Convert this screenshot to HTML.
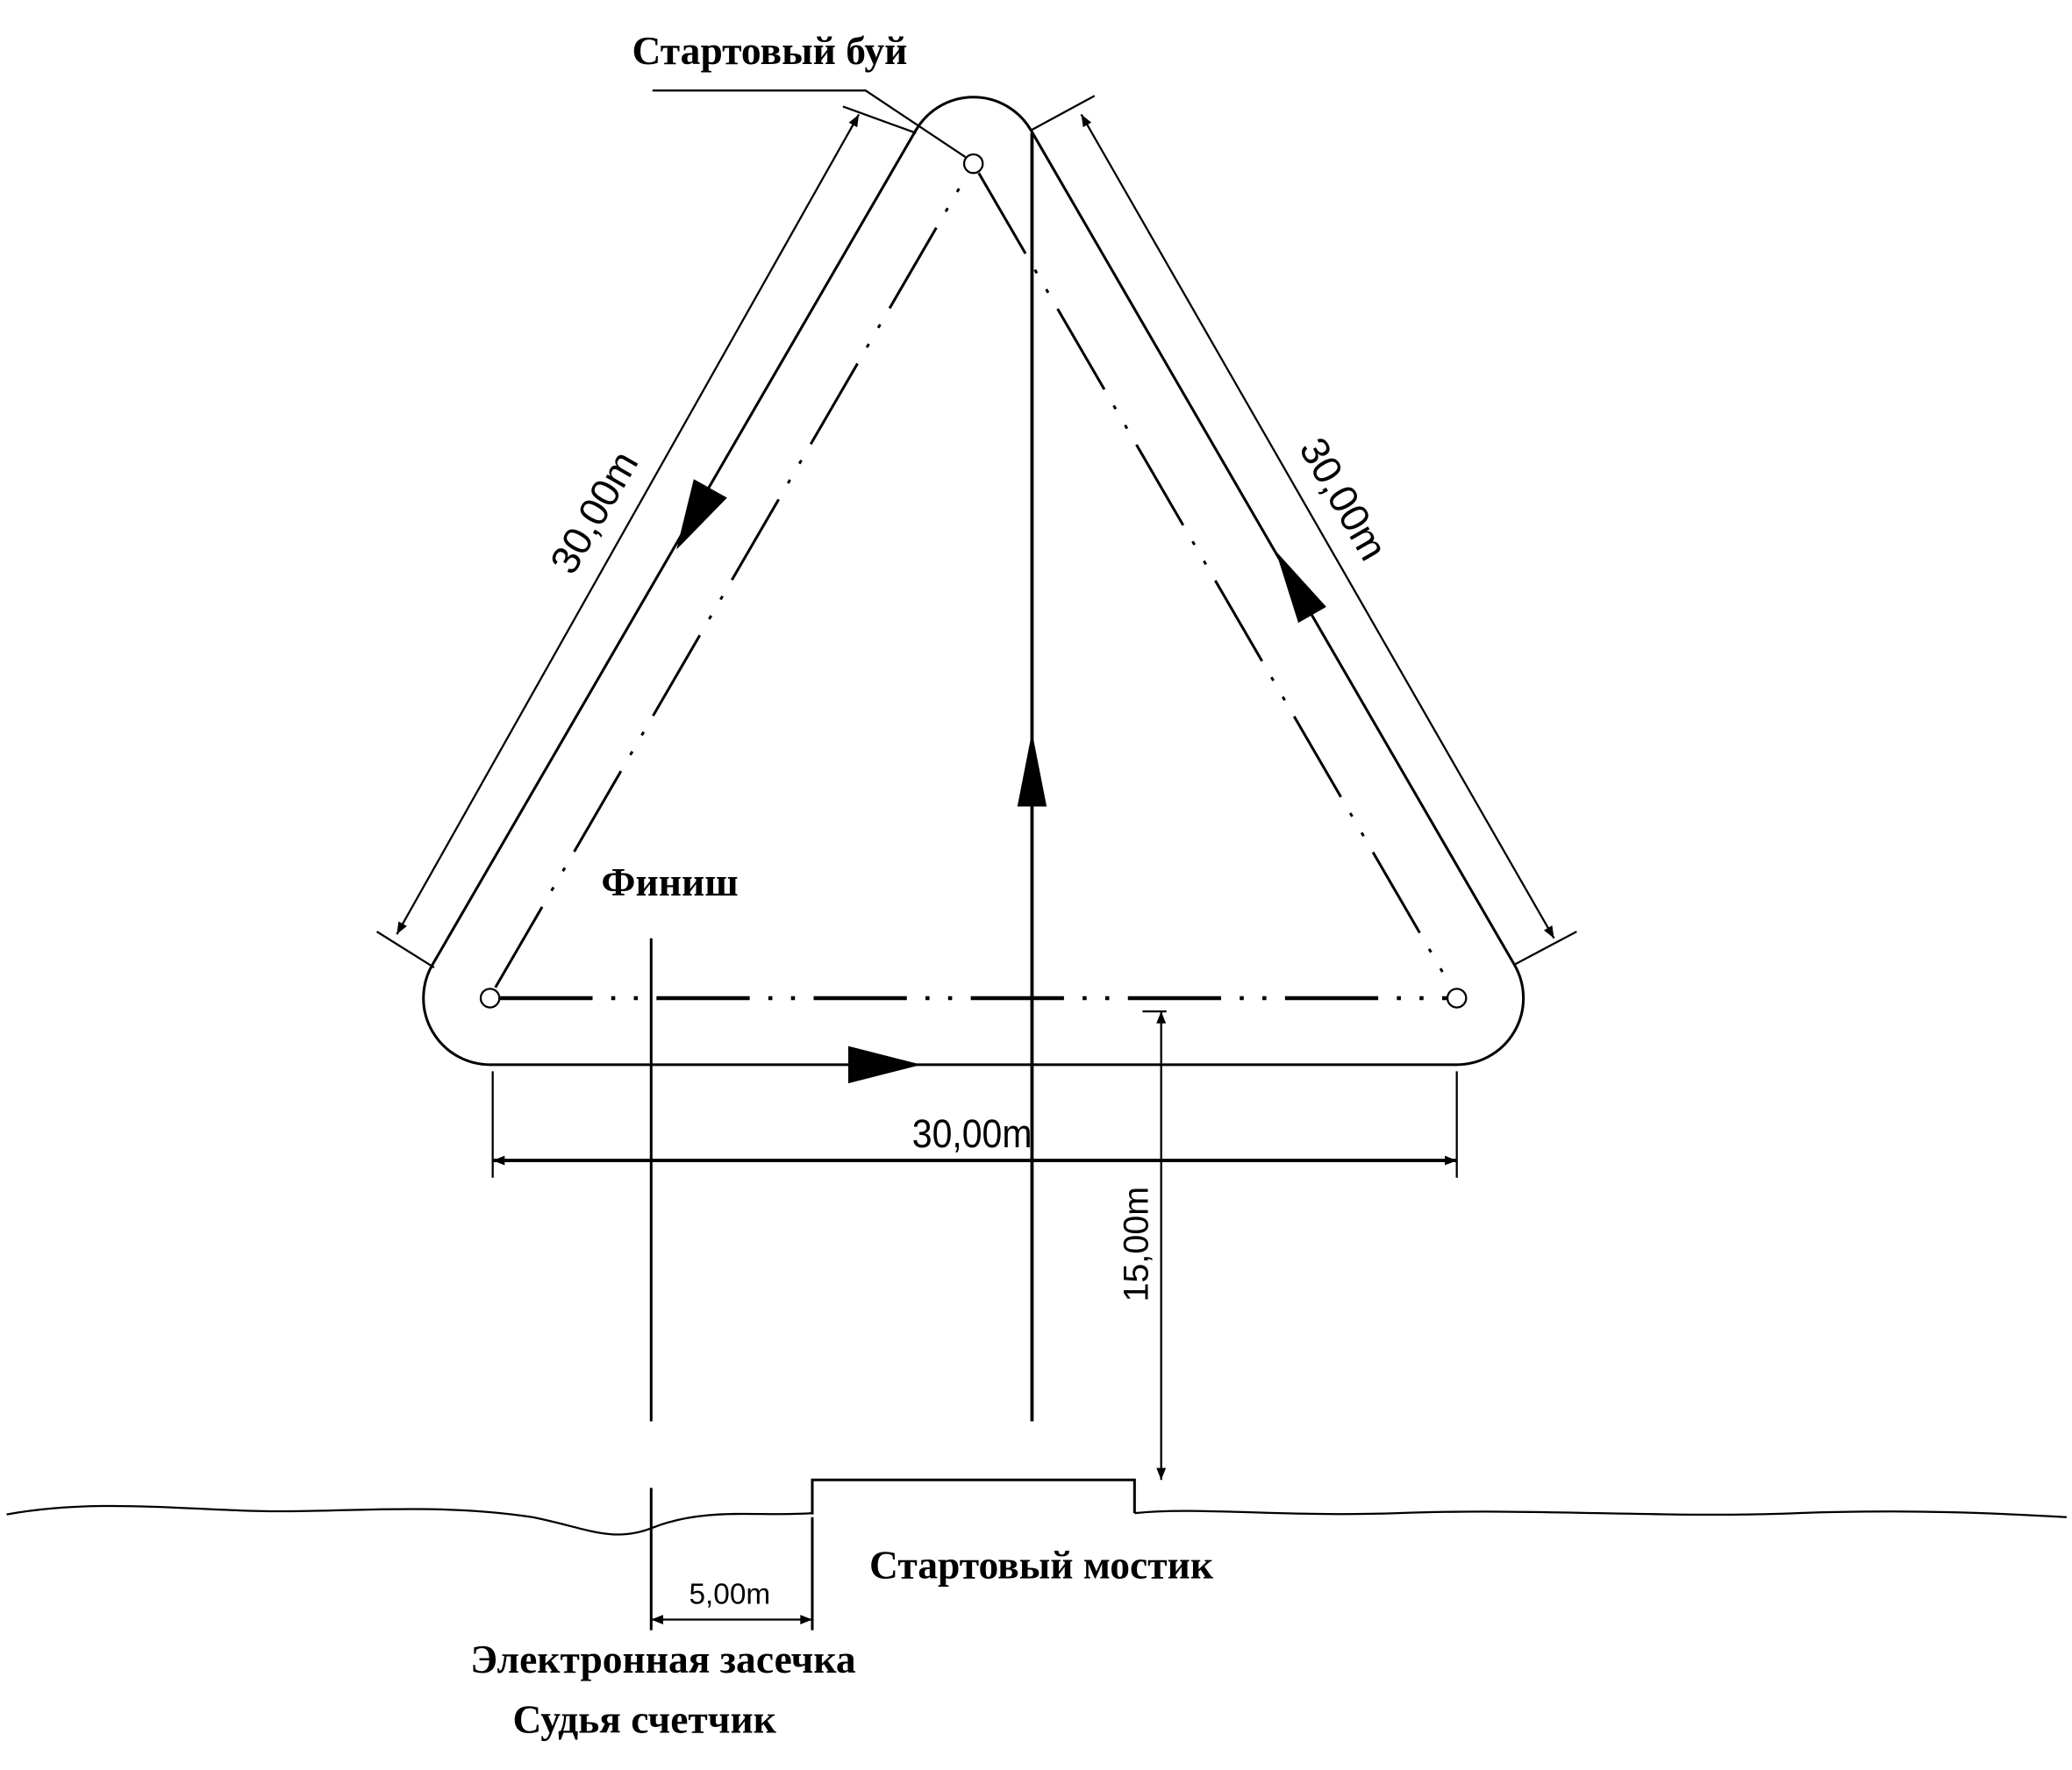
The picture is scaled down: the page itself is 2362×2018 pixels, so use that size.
<!DOCTYPE html>
<html><head><meta charset="utf-8"><style>html,body{margin:0;padding:0;background:#fff}svg{display:block}</style></head>
<body>
<svg width="2362" height="2018" viewBox="0 0 1556 1330" preserveAspectRatio="none" xmlns="http://www.w3.org/2000/svg">
<defs>
<marker id="a" viewBox="0 0 10 10" refX="10" refY="5" markerWidth="14" markerHeight="9" orient="auto-start-reverse" markerUnits="userSpaceOnUse"><path d="M0,1 L10,5 L0,9 z" fill="#000"/></marker>
</defs>
<g fill="none" stroke="#000" stroke-width="2">
<path d="M368 800 L1094 800 A50 50 0 0 0 1137.3 725 L774.3 98 A50 50 0 0 0 687.7 98 L324.7 725 A50 50 0 0 0 368 800 Z" stroke-width="2"/>
<circle cx="731" cy="123" r="7" stroke-width="1.5"/>
<circle cx="368" cy="750" r="7" stroke-width="1.5"/>
<circle cx="1094" cy="750" r="7" stroke-width="1.5"/>
<g stroke-dasharray="70 14 3 14 3 14" stroke-width="2">
<line x1="375" y1="750" x2="1087" y2="750" stroke-width="3"/>
<line x1="372" y1="742" x2="727" y2="130"/>
<line x1="735" y1="130" x2="1090" y2="742"/>
</g>
<line x1="775" y1="100" x2="775" y2="1068" stroke-width="2.5"/>
<line x1="489" y1="705" x2="489" y2="1068"/>
<line x1="489" y1="1118" x2="489" y2="1225"/>
<line x1="610" y1="1140" x2="610" y2="1225"/>
<polyline points="490,68 650,68 725,118" stroke-width="1.5"/>
<line x1="283" y1="700" x2="326" y2="727" stroke-width="1.5"/>
<line x1="633" y1="80" x2="688" y2="100" stroke-width="1.5"/>
<line x1="298" y1="702" x2="645" y2="86" stroke-width="1.5" marker-start="url(#a)" marker-end="url(#a)"/>
<line x1="1137" y1="725" x2="1184" y2="700" stroke-width="1.5"/>
<line x1="774" y1="98" x2="822" y2="72" stroke-width="1.5"/>
<line x1="1167" y1="705" x2="812" y2="86" stroke-width="1.5" marker-start="url(#a)" marker-end="url(#a)"/>
<line x1="370" y1="805" x2="370" y2="885" stroke-width="1.5"/>
<line x1="1094" y1="805" x2="1094" y2="885" stroke-width="1.5"/>
<line x1="370" y1="872" x2="1094" y2="872" stroke-width="2.5" marker-start="url(#a)" marker-end="url(#a)"/>
<line x1="872" y1="760" x2="872" y2="1112" stroke-width="1.5" marker-start="url(#a)" marker-end="url(#a)"/>
<line x1="858" y1="760" x2="876" y2="760" stroke-width="1.5"/>
<line x1="489" y1="1217" x2="610" y2="1217" stroke-width="1.5" marker-start="url(#a)" marker-end="url(#a)"/>
<path d="M5 1138 C60 1128 110 1132 180 1135 C250 1138 320 1128 400 1140 C440 1148 460 1160 490 1148 C530 1132 570 1140 610 1137" stroke-width="1.5"/>
<polyline points="610,1138 610,1112 852,1112 852,1137" stroke-width="2"/>
<path d="M852 1137 C900 1132 960 1140 1050 1137 C1150 1133 1250 1141 1350 1137 C1430 1134 1500 1137 1552 1140" stroke-width="1.5"/>
</g>
<g fill="#000">
<polygon points="775,550 764,606 786,606"/>
<polygon points="692,800 637,786 637,814"/>
<polygon points="508,413 521,360 546,374"/>
<polygon points="958,414 996,456 975,468"/>
</g>
<g font-family="Liberation Sans, sans-serif" font-size="30" fill="#000">
<text x="730" y="862" text-anchor="middle" transform="translate(730 0) scale(0.9 1) translate(-730 0)">30,00m</text>
<text transform="translate(455 390) rotate(-60)" text-anchor="middle">30,00m</text>
<text transform="translate(1000 380) rotate(60)" text-anchor="middle">30,00m</text>
<text transform="translate(862 935) rotate(-90)" text-anchor="middle" font-size="26">15,00m</text>
<text x="548" y="1205" text-anchor="middle" font-size="22">5,00m</text>
</g>
<g font-family="Liberation Serif, serif" font-weight="bold" font-size="30" fill="#000" text-anchor="middle">
<text x="578" y="48">Стартовый буй</text>
<text x="503" y="673">Финиш</text>
<text x="782" y="1186">Стартовый мостик</text>
<text x="498" y="1257">Электронная засечка</text>
<text x="484" y="1302">Судья счетчик</text>
</g>
</svg>
</body></html>
